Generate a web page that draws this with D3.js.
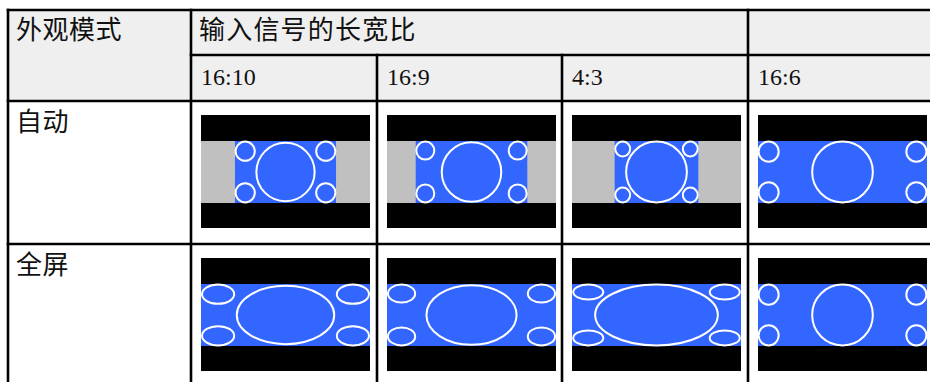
<!DOCTYPE html>
<html>
<head>
<meta charset="utf-8">
<script src="https://cdn.jsdelivr.net/npm/d3@7"></script>
<style>
  html, body { margin: 0; padding: 0; background: #fff; }
  svg { display: block; }
</style>
</head>
<body>
<svg id="chart" width="930" height="382"></svg>
<script>
// ---- data ----
const headerMode = "外观模式";
const headerSignal = "输入信号的长宽比";
const aspectLabels = ["16:10", "16:9", "4:3", "16:6"];
// measured width/height of the source picture (blue area) in each column
const aspectRatios = [1.63, 1.80, 1.35, 2.73];
// radius of corner circles, as fraction of picture height
const smallRadius = [0.155, 0.145, 0.12, 0.162];
const bigRadius = [0.47, 0.48, 0.49, 0.49];
const modes = ["自动", "全屏"];

// ---- layout ----
const colX = [8, 191, 377, 562, 748, 934];
const rowY = [10, 55, 101, 244, 387];
const imgW = 169, imgH = 113, bandTop = 26, bandH = 62;
const cjk = "'Noto Sans CJK SC', 'Noto Sans', sans-serif";
const serif = "'Liberation Serif', 'Times New Roman', serif";

const svg = d3.select("#chart");

// header backgrounds
svg.append("rect").attr("x", colX[0]).attr("y", rowY[0])
  .attr("width", colX[5] - colX[0]).attr("height", rowY[2] - rowY[0])
  .attr("fill", "#efefef");

// header texts
svg.append("text").attr("x", colX[0] + 8).attr("y", rowY[0] + 29)
  .attr("font-family", cjk).attr("font-size", 26).attr("letter-spacing", 0.5).attr("fill", "#111")
  .text(headerMode);
svg.append("text").attr("x", colX[1] + 8).attr("y", rowY[0] + 29)
  .attr("font-family", cjk).attr("font-size", 26).attr("letter-spacing", 1.2).attr("fill", "#111")
  .text(headerSignal);

svg.selectAll("text.aspect").data(aspectLabels).join("text")
  .attr("class", "aspect")
  .attr("x", (d, i) => colX[i + 1] + 10)
  .attr("y", rowY[1] + 30)
  .attr("font-family", serif).attr("font-size", 24).attr("fill", "#111")
  .text(d => d);

svg.selectAll("text.mode").data(modes).join("text")
  .attr("class", "mode")
  .attr("x", colX[0] + 8)
  .attr("y", (d, i) => rowY[i + 2] + 30)
  .attr("font-family", cjk).attr("font-size", 26).attr("letter-spacing", 0.5).attr("fill", "#111")
  .text(d => d);

// ---- pictures ----
modes.forEach((mode, mi) => {
  aspectLabels.forEach((lab, ai) => {
    const ratio = aspectRatios[ai];
    const x0 = colX[ai + 1] + 10;
    const y0 = rowY[mi + 2] + 14;
    const g = svg.append("g");
    g.append("rect").attr("x", x0).attr("y", y0).attr("width", imgW).attr("height", imgH).attr("fill", "#000");
    g.append("rect").attr("x", x0).attr("y", y0 + bandTop).attr("width", imgW).attr("height", bandH).attr("fill", "#c0c0c0");
    const bw = mi === 0 ? Math.min(imgW, bandH * ratio) : imgW;
    const bx = x0 + (imgW - bw) / 2;
    const by = y0 + bandTop;
    g.append("rect").attr("x", bx).attr("y", by).attr("width", bw).attr("height", bandH).attr("fill", "#3366ff");

    const xs = d3.scaleLinear().domain([0, ratio]).range([bx, bx + bw]);
    const ys = d3.scaleLinear().domain([0, 1]).range([by, by + bandH]);
    const sr = smallRadius[ai], br = bigRadius[ai];
    const off = sr + 0.01;
    const shapes = [
      { cx: ratio / 2, cy: 0.5, r: br },
      { cx: off, cy: off, r: sr },
      { cx: ratio - off, cy: off, r: sr },
      { cx: off, cy: 1 - off, r: sr },
      { cx: ratio - off, cy: 1 - off, r: sr }
    ];
    g.selectAll("ellipse").data(shapes).join("ellipse")
      .attr("cx", d => xs(d.cx))
      .attr("cy", d => ys(d.cy))
      .attr("rx", d => xs(d.r) - xs(0))
      .attr("ry", d => ys(d.r) - ys(0))
      .attr("fill", "none").attr("stroke", "#fff").attr("stroke-width", 2);
  });
});

// ---- grid lines ----
const lines = [];
lines.push([colX[0], rowY[0], colX[5], rowY[0]]);
lines.push([colX[1], rowY[1], colX[5], rowY[1]]);
[2, 3, 4].forEach(r => lines.push([colX[0], rowY[r], colX[5], rowY[r]]));
lines.push([colX[0], rowY[0], colX[0], rowY[4]]);
lines.push([colX[1], rowY[0], colX[1], rowY[4]]);
lines.push([colX[4], rowY[0], colX[4], rowY[4]]);
[2, 3].forEach(c => lines.push([colX[c], rowY[1], colX[c], rowY[4]]));
lines.push([colX[5], rowY[0], colX[5], rowY[4]]);

svg.selectAll("line.grid").data(lines).join("line")
  .attr("class", "grid")
  .attr("x1", d => d[0]).attr("y1", d => d[1])
  .attr("x2", d => d[2]).attr("y2", d => d[3])
  .attr("stroke", "#000").attr("stroke-width", 2.6).attr("stroke-linecap", "square");
</script>
</body>
</html>
